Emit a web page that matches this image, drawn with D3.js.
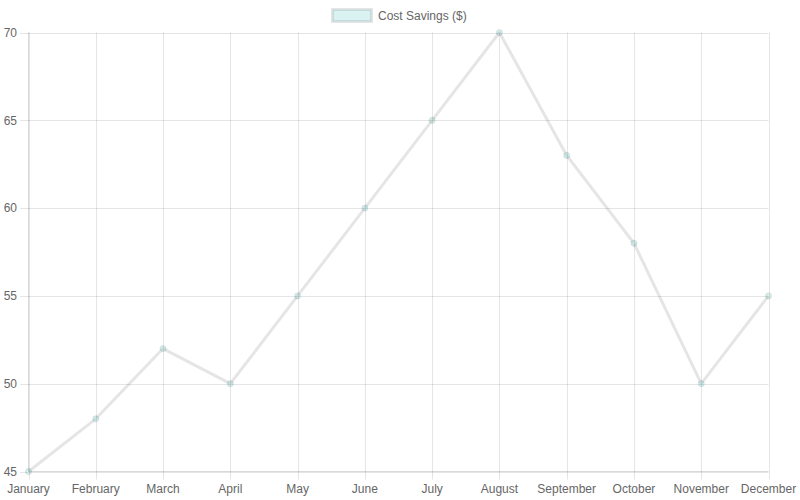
<!DOCTYPE html>
<html><head><meta charset="utf-8">
<script src="https://cdn.jsdelivr.net/npm/d3@7"></script>
<style>body{margin:0;background:#fff}svg{display:block}</style>
</head><body>
<svg id="c" width="800" height="500"></svg>
<script>
const months = ["January","February","March","April","May","June","July","August","September","October","November","December"];
const savings = [45,48,52,50,55,60,65,70,63,58,50,55];
const yTicks = [45,50,55,60,65,70];
const seriesLabel = "Cost Savings ($)";

const svg = d3.select("#c");
const font = "'Liberation Sans', Arial, Helvetica, sans-serif";
const L = 28.5, R = 768.5, T = 32.5, B = 471.5;
const x = d3.scalePoint().domain(months).range([L, R]);
const y = d3.scaleLinear().domain([45,70]).range([B, T]);
const grid = "rgba(0,0,0,0.1)";

// y grid + axis
const ya = d3.axisLeft(y).tickValues(yTicks).tickSize(L - R).tickPadding(0);
const yg = svg.append("g").attr("transform", `translate(${R},0)`);
// draw manually for control
yTicks.forEach(v => {
  svg.append("line").attr("x1", 20).attr("x2", R).attr("y1", Math.round(y(v))+0.5).attr("y2", Math.round(y(v))+0.5)
    .attr("stroke", grid);
  svg.append("text").attr("x", 17).attr("y", y(v)).attr("dy", "0.35em").attr("text-anchor","end")
    .attr("font-family", font).attr("font-size", 12).attr("fill", "#666").text(v);
});
months.forEach(m => {
  const xp = Math.round(x(m)) + 0.5;
  svg.append("line").attr("x1", xp).attr("x2", xp).attr("y1", T).attr("y2", B + 8).attr("stroke", grid);
  svg.append("text").attr("x", x(m)).attr("y", 489).attr("dy", "0.35em").attr("text-anchor","middle")
    .attr("font-family", font).attr("font-size", 12).attr("fill", "#666").text(m);
});
// axis lines slightly darker
svg.append("line").attr("x1", L).attr("x2", L).attr("y1", T).attr("y2", B).attr("stroke", "rgba(0,0,0,0.15)");
svg.append("line").attr("x1", L).attr("x2", R).attr("y1", B).attr("y2", B).attr("stroke", "rgba(0,0,0,0.15)");

const line = d3.line().x((d,i) => x(months[i])).y(d => y(d));
svg.append("path").datum(savings).attr("d", line).attr("fill","none")
  .attr("stroke", "rgba(0,0,0,0.1)").attr("stroke-width", 3).attr("stroke-linejoin","round");
svg.selectAll("circle.pt").data(savings).join("circle").attr("class","pt")
  .attr("cx", (d,i) => x(months[i])).attr("cy", d => y(d)).attr("r", 3)
  .attr("fill", "rgba(75,192,192,0.2)").attr("stroke", "rgba(0,0,0,0.1)").attr("stroke-width", 1);

// legend
const lg = svg.append("g");
lg.append("rect").attr("x", 332.5).attr("y", 9.5).attr("width", 39).attr("height", 12)
  .attr("fill", "rgba(75,192,192,0.2)").attr("stroke", "rgba(0,0,0,0.1)").attr("stroke-width", 3);
lg.append("text").attr("x", 378).attr("y", 16).attr("dy", "0.35em").attr("font-family", font)
  .attr("font-size", 12).attr("fill", "#666").text(seriesLabel);
</script>
</body></html>
